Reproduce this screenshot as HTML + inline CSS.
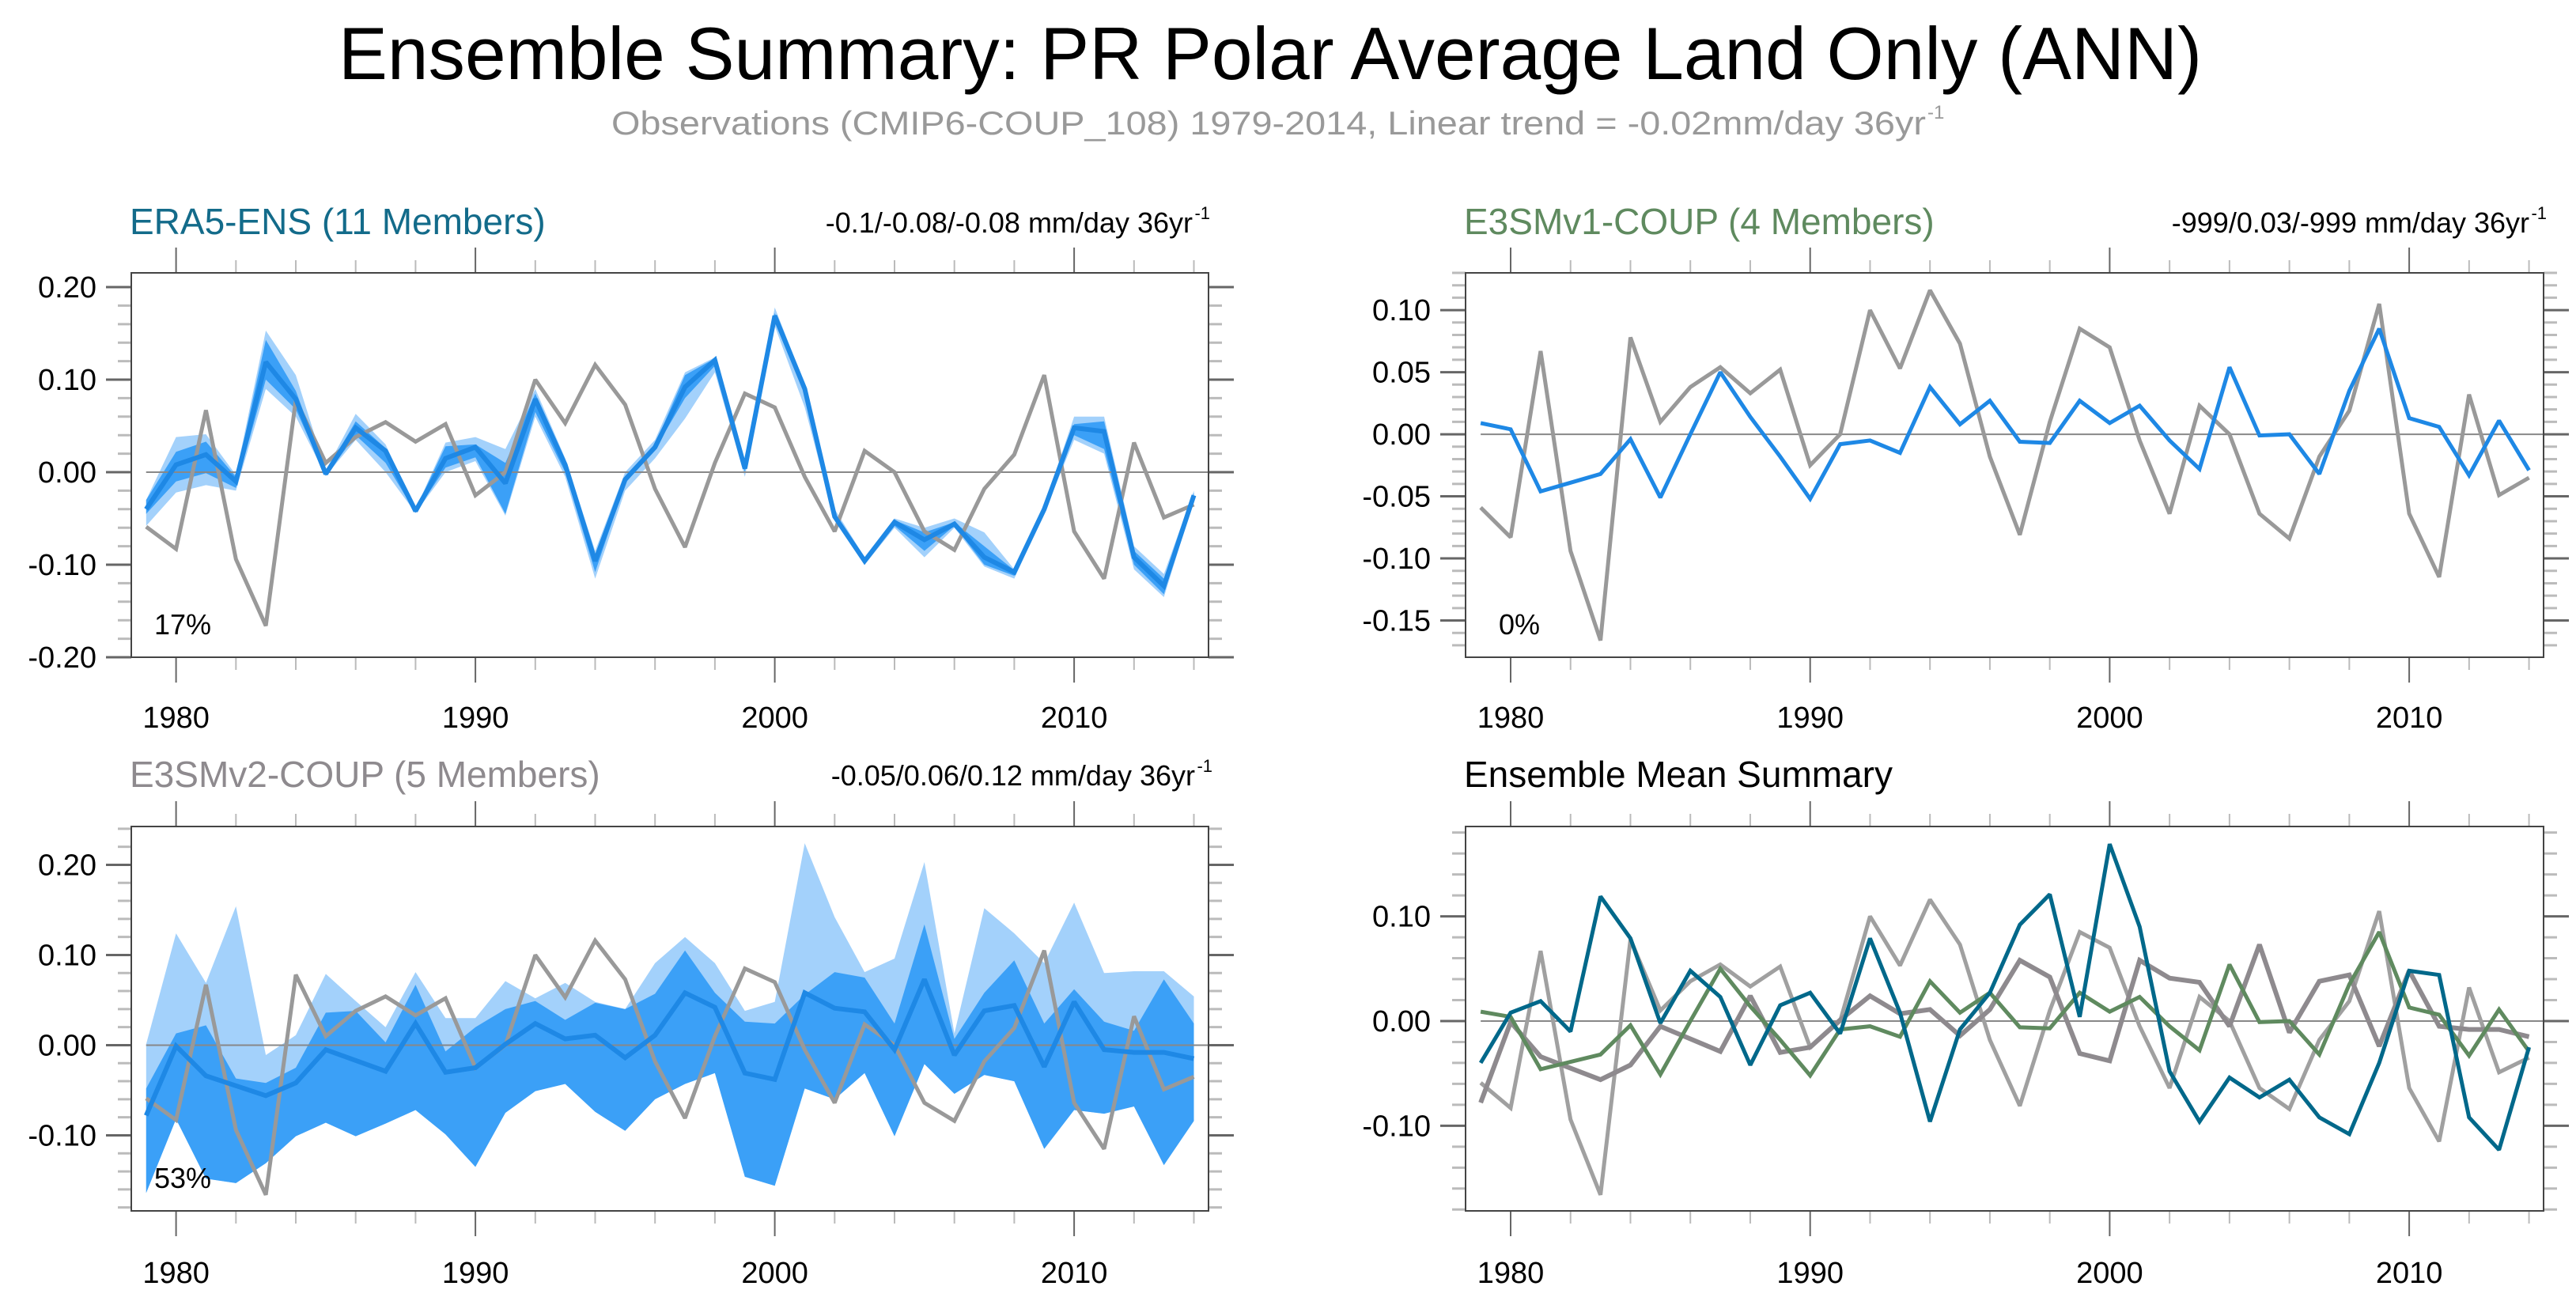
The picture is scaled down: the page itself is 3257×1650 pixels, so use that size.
<!DOCTYPE html>
<html><head><meta charset="utf-8"><style>
html,body{margin:0;padding:0;background:#fff;}
svg{display:block;font-family:"Liberation Sans",Arial,sans-serif;}
</style></head><body>
<svg id="chart" width="3257" height="1650" viewBox="0 0 3257 1650" xmlns="http://www.w3.org/2000/svg">
<rect width="3257" height="1650" fill="#fff"/>
<text x="428" y="100" font-size="94" textLength="2356" lengthAdjust="spacingAndGlyphs" fill="#000">Ensemble Summary: PR Polar Average Land Only (ANN)</text>
<text x="773" y="170" font-size="42" fill="#999" textLength="1662" lengthAdjust="spacingAndGlyphs">Observations (CMIP6-COUP_108) 1979-2014, Linear trend = -0.02mm/day 36yr</text>
<text x="2437" y="150" font-size="24" fill="#999">-1</text>
</svg>
<script>
const years = [1979,1980,1981,1982,1983,1984,1985,1986,1987,1988,1989,1990,1991,1992,1993,1994,1995,1996,1997,1998,1999,2000,2001,2002,2003,2004,2005,2006,2007,2008,2009,2010,2011,2012,2013,2014];
const obs = [-0.059,-0.083,0.067,-0.094,-0.166,0.078,0.010,0.038,0.054,0.033,0.052,-0.025,0.000,0.100,0.053,0.116,0.073,-0.018,-0.081,0.010,0.085,0.070,-0.005,-0.064,0.023,0.000,-0.064,-0.084,-0.018,0.019,0.105,-0.064,-0.115,0.032,-0.049,-0.035];
const era5Mean = [-0.040,0.008,0.019,-0.010,0.119,0.079,-0.002,0.048,0.023,-0.042,0.015,0.027,-0.012,0.079,0.008,-0.096,-0.008,0.027,0.092,0.121,0.004,0.169,0.090,-0.048,-0.096,-0.054,-0.073,-0.056,-0.092,-0.108,-0.040,0.048,0.044,-0.092,-0.123,-0.025];
const era5DarkLo = [-0.045,-0.010,-0.001,-0.017,0.100,0.068,-0.004,0.040,0.010,-0.044,0.005,0.016,-0.045,0.065,0.000,-0.108,-0.012,0.025,0.080,0.115,0.000,0.162,0.085,-0.050,-0.098,-0.058,-0.085,-0.058,-0.100,-0.112,-0.042,0.040,0.025,-0.100,-0.132,-0.028];
const era5DarkHi = [-0.030,0.022,0.033,-0.005,0.143,0.088,0.000,0.055,0.026,-0.040,0.028,0.030,0.010,0.085,0.012,-0.090,-0.004,0.030,0.105,0.123,0.006,0.172,0.093,-0.045,-0.094,-0.052,-0.065,-0.054,-0.080,-0.106,-0.038,0.052,0.055,-0.085,-0.115,-0.022];
const era5LightLo = [-0.058,-0.022,-0.014,-0.020,0.090,0.060,-0.004,0.035,0.000,-0.044,0.000,0.012,-0.047,0.060,-0.005,-0.115,-0.020,0.015,0.058,0.108,-0.005,0.158,0.070,-0.052,-0.100,-0.060,-0.092,-0.060,-0.102,-0.115,-0.044,0.035,0.020,-0.105,-0.135,-0.030];
const era5LightHi = [-0.030,0.038,0.041,-0.003,0.153,0.105,0.002,0.063,0.030,-0.040,0.032,0.038,0.025,0.090,0.015,-0.085,0.000,0.035,0.108,0.124,0.010,0.178,0.095,-0.040,-0.092,-0.050,-0.060,-0.050,-0.065,-0.105,-0.036,0.060,0.060,-0.080,-0.110,-0.020];
const v1Mean = [0.009,0.004,-0.046,-0.039,-0.032,-0.004,-0.051,0.000,0.050,0.014,-0.018,-0.052,-0.008,-0.005,-0.015,0.038,0.008,0.027,-0.006,-0.007,0.027,0.009,0.023,-0.005,-0.028,0.054,-0.001,0.000,-0.032,0.035,0.085,0.013,0.006,-0.033,0.011,-0.029];
const v2Mean = [-0.078,-0.001,-0.034,-0.045,-0.056,-0.042,-0.005,-0.017,-0.029,0.024,-0.030,-0.025,0.001,0.024,0.007,0.011,-0.014,0.011,0.058,0.042,-0.031,-0.038,0.058,0.041,0.037,-0.005,0.073,-0.011,0.038,0.044,-0.024,0.048,-0.005,-0.008,-0.008,-0.015];
const v2DarkHi = [-0.048,0.013,0.022,-0.037,-0.042,-0.025,0.036,0.038,0.003,0.067,-0.007,0.020,0.040,0.049,0.028,0.047,0.040,0.057,0.105,0.058,0.026,0.024,0.056,0.081,0.075,0.024,0.134,0.007,0.058,0.094,0.024,0.062,0.026,0.016,0.073,0.024];
const v2DarkLo = [-0.164,-0.082,-0.148,-0.153,-0.131,-0.101,-0.086,-0.101,-0.087,-0.072,-0.099,-0.135,-0.075,-0.051,-0.043,-0.074,-0.095,-0.060,-0.043,-0.031,-0.146,-0.156,-0.048,-0.060,-0.031,-0.101,-0.021,-0.054,-0.033,-0.040,-0.115,-0.072,-0.076,-0.068,-0.133,-0.084];
const v2LightHi = [0.001,0.124,0.069,0.154,-0.011,0.011,0.079,0.049,0.020,0.081,0.030,0.030,0.071,0.052,0.069,0.048,0.040,0.091,0.120,0.091,0.038,0.048,0.224,0.142,0.081,0.096,0.203,0.013,0.152,0.124,0.091,0.158,0.080,0.082,0.082,0.054];
const pctLabels = ["17%","0%","53%"];
const yTicksTL = [-0.2,-0.1,0,0.1,0.2];
const yTicksTR = [-0.15,-0.1,-0.05,0,0.05,0.1];
const yTicksBL = [-0.1,0,0.1,0.2];
const yTicksBR = [-0.1,0,0.1];
const xTicks = [1980,1990,2000,2010];

const NS="http://www.w3.org/2000/svg";
const svg=document.getElementById('chart');
function mk(tag,attrs,parent){const e=document.createElementNS(NS,tag);for(const k in attrs)e.setAttribute(k,attrs[k]);(parent||svg).appendChild(e);return e;}

function panel(cfg){
  const g=mk('g',{});
  
  
  const L=cfg.l,R=cfg.r,T=cfg.t,B=cfg.b;
  const xs=y=>cfg.x0+(y-1980)*cfg.dx;
  const ys=v=>B-(v-cfg.ymin)/(cfg.ymax-cfg.ymin)*(B-T);
  cfg.xs=xs;cfg.ys=ys;cfg.g=g;
  for(let v=cfg.minorStart; v<=cfg.ymax+1e-9; v+=cfg.minor){
    const yy=ys(v); if(yy<T-1||yy>B+1)continue;
    const isMaj=cfg.yTicks.some(t=>Math.abs(t-v)<1e-6);
    const len=isMaj?32:17;
    const t1=mk('line',{x1:L-len,x2:L,y1:yy,y2:yy,stroke:isMaj?'#666':'#bbb','stroke-width':3},g);
    
    
    const t2=mk('line',{x1:R,x2:R+len,y1:yy,y2:yy,stroke:isMaj?'#666':'#bbb','stroke-width':3},g);
    
    
  }
  cfg.yTicks.forEach(v=>{
    const t=mk('text',{x:L-44,y:ys(v)+13,'font-size':38,'text-anchor':'end',fill:'#000'},g);
    t.textContent=v.toFixed(2);
    
    
  });
  for(let yr=1980; yr<=2014; yr+=2){
    const xx=xs(yr);
    const isMaj=xTicks.indexOf(yr)>=0;
    const len=isMaj?32:16;
    const a=mk('line',{x1:xx,x2:xx,y1:T-len,y2:T,stroke:isMaj?'#666':'#bbb','stroke-width':2},g);
    
    
    const b=mk('line',{x1:xx,x2:xx,y1:B,y2:B+len,stroke:isMaj?'#666':'#bbb','stroke-width':2},g);
    
    
  }
  xTicks.forEach(yr=>{
    const t=mk('text',{x:xs(yr),y:cfg.xLabelY,'font-size':38,'text-anchor':'middle',fill:'#000'},g);
    t.textContent=yr;
    
    
  });
  return cfg;
}
function band(cfg,lo,hi,color,name){
  let d='';
  years.forEach((y,i)=>{d+=(i?'L':'M')+cfg.xs(y).toFixed(1)+','+cfg.ys(hi[i]).toFixed(1);});
  for(let i=years.length-1;i>=0;i--)d+='L'+cfg.xs(years[i]).toFixed(1)+','+cfg.ys(lo[i]).toFixed(1);
  const p=mk('path',{d:d+'Z',fill:color,stroke:'none'},cfg.g);
  
  
}
function line(cfg,vals,color,w,name){
  const pts=years.map((y,i)=>cfg.xs(y).toFixed(1)+','+cfg.ys(vals[i]).toFixed(1)).join(' ');
  const p=mk('polyline',{points:pts,fill:'none',stroke:color,'stroke-width':w,'stroke-linejoin':'miter','stroke-miterlimit':2},cfg.g);
  
  
}
function zero(cfg){
  const z=mk('line',{x1:cfg.xs(1979),x2:cfg.r,y1:cfg.ys(0),y2:cfg.ys(0),stroke:'#888','stroke-width':2},cfg.g);
  
  
}
function frame(cfg){
  const r=mk('rect',{x:cfg.l,y:cfg.t,width:cfg.r-cfg.l,height:cfg.b-cfg.t,fill:'none',stroke:'#444','stroke-width':2},cfg.g);
  
  
}
function txt(cfg,x,y,s,size,color,anchor,name){
  const t=mk('text',{x:x,y:y,'font-size':size,fill:color,'text-anchor':anchor||'start'},cfg.g);
  t.textContent=s;
  
  
  return t;
}
function trend(cfg,xr,y,s,name){
  txt(cfg,xr-22,y,s,36,'#000','end',name);
  txt(cfg,xr,y-17,'-1',22,'#000','end',name+'-superscript');
}

const XL=166,XR=1528,XL2=1853,XR2=3216;
const TL=panel({name:'panel-era5-ens',l:XL,r:XR,t:345,b:831,x0:222.6,dx:37.85,ymin:-0.2,ymax:0.2154,yTicks:yTicksTL,minor:0.02,minorStart:-0.2,xLabelY:920});
band(TL,era5LightLo,era5LightHi,'#a3d1fb','era5-light-spread');
band(TL,era5DarkLo,era5DarkHi,'#3ba0f7','era5-dark-spread');
zero(TL);
line(TL,obs,'#999',5,'obs-line');
line(TL,era5Mean,'#1e88e5',6,'era5-mean-line');
frame(TL);
txt(TL,164,296,'ERA5-ENS (11 Members)',46,'#136b8a','start','panel-title-era5');
trend(TL,1530,294,'-0.1/-0.08/-0.08 mm/day 36yr','trend-text-era5');
txt(TL,195,802,pctLabels[0],36,'#000','start','percent-label-era5');

const TR=panel({name:'panel-e3smv1-coup',l:XL2,r:XR2,t:345,b:831,x0:1910,dx:37.87,ymin:-0.1796,ymax:0.130,yTicks:yTicksTR,minor:0.01,minorStart:-0.17,xLabelY:920});
zero(TR);
line(TR,obs,'#999',5,'obs-line');
line(TR,v1Mean,'#1e88e5',5,'e3smv1-mean-line');
frame(TR);
txt(TR,1851,296,'E3SMv1-COUP (4 Members)',46,'#5f8a5f','start','panel-title-e3smv1');
trend(TR,3220,294,'-999/0.03/-999 mm/day 36yr','trend-text-e3smv1');
txt(TR,1895,802,pctLabels[1],36,'#000','start','percent-label-e3smv1');

const BL=panel({name:'panel-e3smv2-coup',l:XL,r:XR,t:1045,b:1531,x0:222.6,dx:37.85,ymin:-0.1838,ymax:0.2425,yTicks:yTicksBL,minor:0.02,minorStart:-0.18,xLabelY:1622});
band(BL,v2DarkLo,v2LightHi,'#a3d1fb','e3smv2-light-spread');
band(BL,v2DarkLo,v2DarkHi,'#3ba0f7','e3smv2-dark-spread');
zero(BL);
line(BL,obs,'#999',5,'obs-line');
line(BL,v2Mean,'#1e88e5',6,'e3smv2-mean-line');
frame(BL);
txt(BL,164,995,'E3SMv2-COUP (5 Members)',46,'#8e8a8e','start','panel-title-e3smv2');
trend(BL,1533,993,'-0.05/0.06/0.12 mm/day 36yr','trend-text-e3smv2');
txt(BL,195,1502,pctLabels[2],36,'#000','start','percent-label-e3smv2');

const BR=panel({name:'panel-ensemble-mean-summary',l:XL2,r:XR2,t:1045,b:1531,x0:1910,dx:37.87,ymin:-0.1813,ymax:0.1858,yTicks:yTicksBR,minor:0.02,minorStart:-0.18,xLabelY:1622});
zero(BR);
line(BR,obs,'#a0a0a0',5,'obs-line');
line(BR,v2Mean,'#8e8a8e',6,'e3smv2-mean-line');
line(BR,v1Mean,'#5f8a5f',5,'e3smv1-mean-line');
line(BR,era5Mean,'#00688a',5,'era5-mean-line');
frame(BR);
txt(BR,1851,995,'Ensemble Mean Summary',46,'#000','start','panel-title-summary');
</script>
</body></html>
